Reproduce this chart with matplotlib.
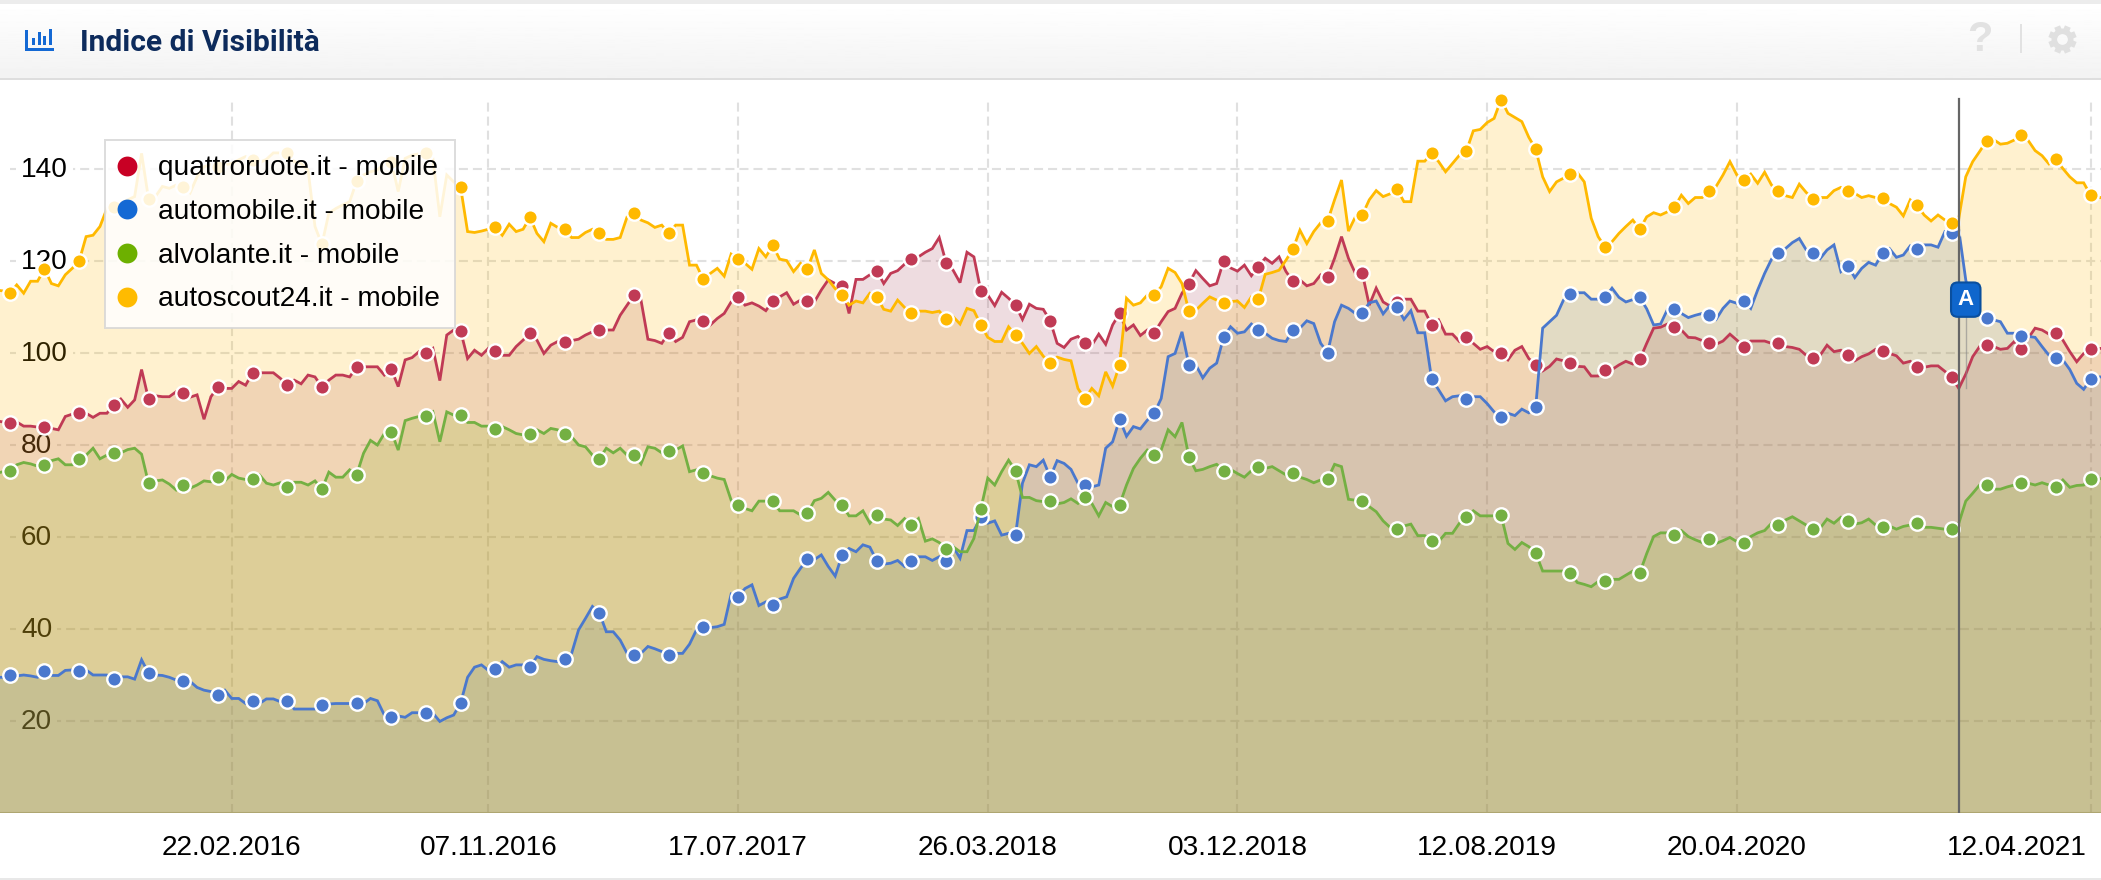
import numpy as np
import matplotlib
matplotlib.use("Agg")
import matplotlib.pyplot as plt
from matplotlib.lines import Line2D
from matplotlib.patches import Rectangle, Circle
from matplotlib.transforms import ScaledTranslation

plt.rcParams['font.family'] = ['Liberation Sans', 'DejaVu Sans']
plt.rcParams['lines.scale_dashes'] = False

# Weekly values, first value is week -2; week 0 is 13.07.2015
quattroruote = [85.3,85.0,
84.7,85.0,84.1,84.1,83.9, 83.9,83.6,83.3,86.2,86.7, 86.9,86.9,86.0,86.9,86.9, 88.7,90.0,88.2,89.8,96.4,
90.0,90.7,90.5,90.5,91.6, 91.2,90.4,90.9,85.6,90.5, 92.6,92.3,92.3,93.8,93.0, 95.7,95.7,95.7,95.7,94.5,
93.0,94.1,93.3,95.2,94.8, 92.6,94.1,95.2,95.2,94.8, 96.9,97.0,97.0,97.0,95.2, 96.5,92.7,98.5,99.0,100.3,
99.9,101.0,94.0,103.9,105.0, 104.8,98.8,100.6,99.5,101.0, 100.4,99.5,99.5,101.4,102.8, 104.3,102.8,99.9,101.7,102.5,
102.5,102.7,103.0,103.9,104.6, 105.1,105.0,105.0,108.2,110.4, 112.6,111.5,103.0,102.7,102.1, 104.4,102.5,103.4,106.8,107.2,
107.0,106.1,107.5,108.6,111.1, 112.2,110.4,110.9,110.2,109.2, 111.3,112.2,113.1,110.6,111.5, 111.3,111.1,113.7,115.9,115.1,
114.6,108.6,116.0,116.0,117.0, 117.9,115.1,117.3,117.9,119.3, 120.4,120.9,121.9,122.7,125.1, 119.6,118.0,115.3,121.9,120.9,
113.5,112.6,110.3,113.2,111.9, 110.4,107.3,110.6,109.7,109.5, 107.0,102.1,101.2,103.0,103.6, 102.1,101.7,104.1,101.9,106.1,
108.6,105.0,106.1,103.8,105.0, 104.4,106.8,109.0,109.7,113.0, 115.1,117.9,116.2,114.6,115.1, 120.0,118.5,117.8,119.1,116.8,
118.8,120.6,119.5,120.9,117.7, 115.6,115.9,114.6,115.1,117.0, 116.6,120.6,125.3,120.6,117.3, 117.3,110.4,114.1,111.1,110.2,
111.1,111.7,111.7,109.1,109.1, 106.1,107.2,104.1,104.1,102.5, 103.4,102.1,100.8,101.4,100.3, 99.9,98.5,100.6,101.4,98.8,
97.4,96.1,97.1,98.7,98.3, 97.8,97.1,97.0,95.0,95.0, 96.4,96.4,97.4,98.2,97.6, 98.6,102.1,105.4,105.6,106.3,
105.6,105.0,103.4,103.3,102.7, 102.1,101.9,102.6,104.1,102.8, 101.4,102.6,102.6,102.6,102.1, 102.1,101.4,101.2,100.8,99.5,
99.0,99.5,101.7,100.3,100.6, 99.5,98.3,99.2,99.8,100.8, 100.5,99.9,99.4,97.8,98.2, 96.9,96.9,97.2,97.2,96.0,
94.7,92.3,95.4,99.2,101.4, 101.7,101.4,100.8,101.0,102.5, 100.8,103.2,105.4,105.0,104.1, 104.4,102.8,100.3,98.1,99.9,
100.9,101.0,101.0]

automobile = [29.5,29.5,
30.0,29.8,30.0,29.8,29.5, 30.9,29.9,29.9,31.0,31.1, 30.9,31.1,30.0,30.0,30.0, 29.1,29.6,29.6,29.1,33.3,
30.4,30.0,29.9,29.5,28.9, 28.7,28.6,27.3,26.7,26.4, 25.7,26.7,24.9,24.9,23.8, 24.4,23.8,24.8,24.8,24.2,
24.4,22.6,22.6,22.6,22.6, 23.5,23.7,23.8,23.8,23.8, 23.9,23.8,24.9,24.4,21.3, 20.9,21.1,20.8,21.8,21.8,
21.7,21.7,19.9,20.7,21.3, 23.9,29.5,31.7,32.2,31.0, 31.3,32.9,31.7,32.2,32.2, 31.8,34.0,33.4,33.1,32.9,
33.5,34.7,39.8,42.3,44.9, 43.5,39.4,39.4,37.6,34.7, 34.4,34.7,36.2,35.7,35.1, 34.4,34.7,34.7,36.7,39.8,
40.4,40.3,40.5,41.0,47.6, 47.0,48.8,49.6,45.1,45.9, 45.2,46.5,47.0,51.0,53.2, 55.2,55.1,56.1,53.6,51.5,
56.1,57.5,56.8,58.3,57.8, 54.8,54.1,54.3,54.9,53.6, 54.8,55.7,55.7,54.9,55.7, 54.8,57.9,55.4,61.4,61.4,
64.3,63.0,63.5,60.4,60.8, 60.4,71.7,75.7,75.3,76.7, 73.0,76.6,76.0,74.7,71.7, 71.3,70.9,71.3,79.3,80.7,
85.6,81.9,84.0,83.5,85.4, 86.9,90.1,99.2,99.9,104.6, 97.4,97.4,94.6,96.7,97.8, 103.4,105.7,104.3,104.6,106.3,
105.1,104.3,103.2,102.7,102.5, 105.1,105.4,107.0,106.4,102.1, 100.1,106.8,110.4,109.7,108.6, 108.6,110.9,111.3,108.5,110.4,
110.0,107.3,109.2,104.4,104.4, 94.3,92.0,89.6,90.5,90.7, 90.0,90.5,90.5,89.0,87.2, 86.0,86.9,86.4,87.8,87.0,
88.3,105.4,106.8,108.2,111.5, 112.9,113.1,113.1,111.7,111.7, 112.1,114.1,112.1,111.1,111.6, 112.1,109.6,106.1,106.3,109.5,
109.5,108.6,107.7,108.2,108.6, 108.3,107.3,109.7,111.3,110.8, 111.3,109.7,113.7,117.3,120.4, 121.7,122.7,124.0,124.9,122.4,
121.7,120.5,122.4,123.5,117.7, 119.0,116.4,118.4,119.7,119.1, 121.7,122.7,120.8,121.3,123.3, 122.6,123.5,123.5,123.0,126.4,
126.0,126.7,115.9,109.3,108.2, 107.7,107.2,106.8,104.3,104.3, 103.8,103.6,103.4,101.4,99.5, 99.0,98.5,96.4,93.4,92.1,
94.3,94.8,94.8]

alvolante = [73.8,74.2,
74.4,75.7,76.2,75.9,75.4, 75.7,76.6,77.0,75.7,75.7, 77.0,77.8,79.3,77.0,77.8, 78.3,78.3,79.0,79.3,78.0,
71.7,72.2,72.4,71.5,70.2, 71.3,70.6,71.3,72.2,72.0, 73.0,72.2,73.6,72.8,72.5, 72.6,73.5,71.7,71.3,71.8,
70.9,71.9,71.9,71.3,72.2, 70.4,74.1,73.0,73.0,74.6, 73.5,78.2,81.0,80.0,82.5, 82.9,78.9,85.3,85.8,86.2,
86.2,87.2,80.7,87.2,86.5, 86.5,84.9,84.9,84.1,84.1, 83.5,84.0,83.3,82.5,82.2, 82.4,83.3,82.5,83.6,83.3,
82.5,81.8,80.0,79.6,77.8, 77.0,79.3,78.3,79.3,77.8, 77.8,75.9,79.6,79.3,78.3, 78.7,78.9,79.8,74.2,74.6,
73.9,73.3,72.8,72.5,68.0, 67.0,66.2,65.7,67.8,67.8, 67.8,65.7,65.7,65.7,64.8, 65.2,67.9,68.4,69.7,68.0,
67.0,64.6,64.6,65.7,63.0, 64.8,63.9,63.7,62.5,64.0, 62.6,64.0,59.1,59.6,58.8, 57.4,57.9,56.8,56.8,59.7,
66.1,72.8,71.3,74.2,76.7, 74.4,68.6,68.6,67.9,67.7, 67.8,67.2,67.5,68.3,67.3, 68.7,67.3,64.6,67.5,66.6,
67.0,71.3,74.9,77.1,78.9, 77.8,78.9,83.3,81.8,84.9, 77.4,74.4,74.7,75.3,75.8, 74.4,74.7,73.8,73.0,74.4,
75.2,74.9,75.3,74.4,73.5, 73.9,73.0,72.5,71.8,72.4, 72.6,75.8,75.3,68.2,68.0, 67.8,66.6,65.5,63.5,62.1,
61.7,62.4,62.8,60.3,60.3, 59.1,59.0,60.8,60.8,63.0, 64.3,65.7,64.6,64.6,64.6, 64.8,58.6,57.3,58.8,57.9,
56.5,52.6,52.6,52.6,52.6, 52.2,50.1,49.7,49.2,50.3, 50.4,50.8,50.8,51.7,52.6, 52.2,56.4,60.1,60.9,60.9,
60.4,61.4,60.1,59.4,58.8, 59.6,58.6,59.2,59.9,59.0, 58.7,60.1,60.9,61.4,63.0, 62.6,63.7,64.4,63.5,62.6,
61.7,61.9,63.9,63.0,64.3, 63.5,62.8,63.1,63.9,62.6, 62.2,62.4,61.7,62.3,62.6, 63.1,62.1,62.1,61.9,61.7,
61.7,63.0,67.8,69.5,71.3, 71.3,70.4,70.4,70.9,71.3, 71.7,71.7,71.3,71.8,71.3, 70.9,72.4,70.8,71.2,71.3,
72.6,72.6,72.8]

autoscout24 = [113.7,113.5,
113.0,114.8,113.0,115.6,115.6, 118.3,115.1,114.6,117.0,118.4, 120.0,125.3,125.6,127.5,131.4, 131.7,132.5,133.3,134.0,143.4,
133.5,134.0,136.2,135.8,136.5, 136.0,134.8,138.3,140.5,140.9, 140.5,140.9,141.2,142.0,142.7, 142.0,141.4,142.1,143.5,143.5,
143.5,141.6,141.2,139.8,127.5, 123.6,130.4,131.4,132.2,132.9, 137.3,138.7,139.4,139.8,141.2, 141.6,135.1,142.3,143.0,143.3,
143.5,142.3,129.6,138.7,137.2, 136.0,126.4,126.2,126.5,126.9, 127.3,125.6,128.0,126.4,126.9, 129.5,126.0,124.2,128.2,127.3,
126.9,125.1,125.1,126.2,126.9, 126.0,124.7,124.7,125.1,129.6, 130.4,128.9,128.3,127.3,127.8, 126.0,127.8,127.8,119.1,119.1,
116.0,117.3,118.4,116.7,121.5, 120.4,119.5,118.2,122.7,120.9, 123.4,120.4,120.1,117.7,119.5, 118.3,122.4,117.3,115.9,114.0,
112.6,110.4,111.3,110.9,113.0, 112.2,109.5,109.1,111.5,109.9, 108.6,109.1,109.1,108.8,109.1, 107.4,107.9,106.3,109.7,109.2,
106.1,103.4,102.5,102.5,105.7, 103.9,102.1,99.9,101.4,99.3, 97.8,99.1,98.6,98.3,92.3, 90.0,92.3,90.7,95.9,92.8,
97.4,111.9,110.4,110.9,112.6, 112.6,114.4,118.4,117.5,115.1, 109.1,109.3,110.8,112.2,111.5, 110.9,111.2,111.3,109.9,112.2,
111.7,117.1,117.5,118.0,120.2, 122.6,126.7,123.8,126.4,128.3, 128.7,133.3,137.6,126.5,129.6, 130.0,133.3,135.3,134.0,134.6,
135.6,132.9,132.9,141.7,141.7, 143.4,141.6,139.4,141.2,143.0, 143.9,148.3,148.6,150.1,151.0, 155.1,152.1,151.2,150.3,146.9,
144.3,138.3,135.1,137.2,138.0, 139.0,139.2,137.2,129.3,125.3, 123.0,124.2,126.0,127.5,128.9, 126.9,129.6,130.5,130.0,130.7,
131.7,134.3,132.5,133.8,133.8, 135.2,136.2,138.7,141.6,138.7, 137.7,138.9,136.9,139.3,136.5, 135.2,134.2,133.8,136.7,134.9,
133.5,133.8,133.8,135.3,136.0, 135.2,134.7,133.8,134.2,133.8, 133.8,132.5,131.7,129.8,133.3, 132.1,130.0,128.7,130.0,128.9,
128.3,129.3,138.3,141.6,143.8, 146.1,146.4,145.4,145.6,146.3, 147.4,146.2,144.0,142.9,141.1, 142.1,140.1,138.3,137.0,137.0,
134.3,134.0,133.5]

series_names = ['quattroruote.it - mobile', 'automobile.it - mobile',
                'alvolante.it - mobile', 'autoscout24.it - mobile']
y_ticks = [20, 40, 60, 80, 100, 120, 140]
date_labels = ['22.02.2016', '07.11.2016', '17.07.2017', '26.03.2018',
               '03.12.2018', '12.08.2019', '20.04.2020', '12.04.2021']
date_weeks = [32, 69, 105, 141, 177, 213, 249, 300]
event_week = 281
first_week = -2

W, H = 2101, 880
line_cols = ['#c03a55', '#4a78cd', '#74b043', '#ffb900']
fill_cols = [(160/255, 50/255, 75/255), (49/255, 96/255, 179/255),
             (98/255, 173/255, 12/255), (1, 185/255, 0)]
fill_alpha = [.17, .17, .17, .19]
legend_cols = ['#c80024', '#1469d4', '#6db000', '#ffbb00']

fig = plt.figure(figsize=(W/100, H/100), dpi=100, facecolor='white')

# page furniture in pixel coordinates
bg = fig.add_axes([0, 0, 1, 1], zorder=0)
bg.axis('off')
grad = np.linspace(1.0, 0.95, 64)[:, None]
bg.imshow(grad, extent=(0, W, 79, 4), cmap='gray', vmin=0, vmax=1, aspect='auto', zorder=1)
bg.set_xlim(0, W); bg.set_ylim(H, 0)
bg.add_patch(Rectangle((0, 0), W, 4, fc='#ececec', ec='none', zorder=2))
bg.add_patch(Rectangle((0, 78.5), W, 1.5, fc='#dedede', ec='none', zorder=2))
bg.add_patch(Rectangle((0, 878), W, 2, fc='#e8e8e8', ec='none', zorder=2))
icon = '#1469d4'
bg.add_patch(Rectangle((25, 30), 3, 21, fc=icon, ec='none', zorder=3))
bg.add_patch(Rectangle((25, 48), 29, 3, fc=icon, ec='none', zorder=3))
for bx, bh in zip([32, 37.5, 43, 48.5], [7, 13, 9, 16]):
    bg.add_patch(Rectangle((bx, 45-bh), 3, bh, fc=icon, ec='none', zorder=3))
bg.text(80, 43, 'Indice di Visibilità', fontsize=21.5, fontweight='bold', family='Roboto',
        color='#0d2b5c', va='center', ha='left', zorder=3)
bg.text(1980, 40, '?', fontsize=30, fontweight='bold', color='#e2e2e2', va='center', ha='center', zorder=3)
bg.add_patch(Rectangle((2020, 24), 2, 29, fc='#e2e2e2', ec='none', zorder=3))
gear = '#e0e0e0'
bg.add_patch(Circle((2062.5, 39.5), 8.2, fc='none', ec=gear, lw=4.0, zorder=3))
for ang in np.deg2rad(np.arange(0, 360, 45) + 22.5):
    bg.plot([2062.5 + 9*np.cos(ang), 2062.5 + 14*np.cos(ang)],
            [39.5 + 9*np.sin(ang), 39.5 + 14*np.sin(ang)], color=gear, lw=4.5,
            solid_capstyle='butt', zorder=3)

# chart axes: top 79 px, bottom 813 px
ax = fig.add_axes([0, (H-813)/H, 1, (813-79)/H], zorder=2)
ax.patch.set_alpha(0)
ax.set_xlim(-9.8/6.936, (W-9.8)/6.936)
ax.set_ylim(0, (813-79)/4.6)
for s in ax.spines.values():
    s.set_visible(False)
ax.set_axisbelow(True)

weeks = np.arange(len(quattroruote)) + first_week
grid_kw = dict(color='#e0e0e0', lw=1.5, ls=(0, (6.5, 3.6)), dash_capstyle='butt', zorder=.4)
for t in y_ticks:
    ax.plot([0, weeks[-1]], [t, t], **grid_kw)
for t in date_weeks:
    ax.plot([t, t], [0, 155.2], **grid_kw)
ax.axhline(0, color='#c8c8b8', lw=1.5, zorder=.4)

all_series = [quattroruote, automobile, alvolante, autoscout24]
for i, vals in enumerate(all_series):
    x = np.arange(len(vals)) + first_week
    ax.fill_between(x, 0, vals, color=fill_cols[i], alpha=fill_alpha[i], lw=0, zorder=2 + i*.1)
for i, vals in enumerate(all_series):
    x = np.arange(len(vals)) + first_week
    ax.plot(x, vals, color=line_cols[i], lw=2.0, zorder=3 + i*.1, solid_joinstyle='miter',
            marker='o', markevery=(2, 5), ms=10.4, mfc=line_cols[i], mec='white', mew=1.7)

# event marker
ax.axvline(event_week, ymax=155.2/ax.get_ylim()[1], color='#666666', lw=1.6, zorder=8)
ax.plot([event_week+1, event_week+1], [92.5, 108], color='#888888', lw=1, alpha=.6, zorder=8)
ax.text(event_week+1, 111.6, 'A', color='white', fontsize=16, fontweight='bold', ha='center', va='center',
        zorder=9, bbox=dict(boxstyle='round,pad=0.3,rounding_size=0.3', fc='#0f66cc', ec='#0a4f9e', lw=1.5))

ax.set_yticks(y_ticks)
ax.set_yticklabels([str(t) for t in y_ticks])
ax.tick_params(axis='y', length=0, direction='in', pad=-15.1, labelsize=20.2, labelcolor='black')
for lab in ax.get_yticklabels():
    lab.set_horizontalalignment('left')
    lab.set_bbox(dict(fc='white', ec='none', pad=3.5))
    lab.set_transform(lab.get_transform() + ScaledTranslation(0, 2.5/100, fig.dpi_scale_trans))
ax.set_xticks(date_weeks)
ax.set_xticklabels(date_labels)
ax.tick_params(axis='x', length=0, pad=15.6, labelsize=20.2, labelcolor='black')
last = ax.get_xticklabels()[-1]
last.set_horizontalalignment('right')
last.set_transform(last.get_transform() + ScaledTranslation(-4/100, 0, fig.dpi_scale_trans))

handles = [Line2D([], [], ls='none', marker='o', ms=14.3, mfc=c, mec=c, mew=0) for c in legend_cols]
leg = ax.legend(handles, series_names, loc='upper left', bbox_to_anchor=(105/W, 1-140/H),
                bbox_transform=fig.transFigure, fontsize=20.2, frameon=True, framealpha=.85,
                fancybox=False, edgecolor='#d6d6d6', facecolor='white', borderaxespad=0,
                borderpad=.55, labelspacing=.63, handlelength=.45, handletextpad=.89)
leg.set_zorder(20)
leg.get_frame().set_linewidth(1.4)

fig.savefig('out.png', dpi=100)
